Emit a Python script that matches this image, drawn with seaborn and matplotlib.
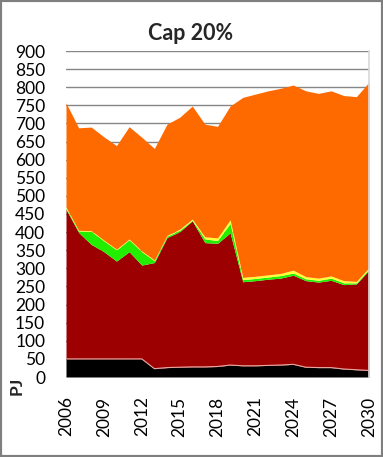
import matplotlib
matplotlib.use("Agg")
import matplotlib.pyplot as plt
import seaborn as sns
import numpy as np
import pandas as pd
from matplotlib.patches import Rectangle

years = list(range(2006, 2031))
black_top = [50, 50, 50, 50, 50, 50, 50, 23, 26, 27, 28, 28, 29, 33, 31, 31, 32, 33, 35, 27, 26, 26, 22, 20, 18]
red_top = [463, 399, 366, 346, 320, 346, 309, 316, 385, 401, 431, 371, 369, 398, 263, 266, 270, 273, 281, 266, 262, 267, 255, 257, 295]
green_top = [466, 403, 402, 376, 351, 379, 346, 321, 389, 405, 433, 381, 377, 424, 269, 272, 276, 280, 287, 271, 267, 273, 260, 260, 298]
yellow_top = [469, 405, 404, 378, 353, 381, 348, 323, 391, 408, 436, 387, 384, 434, 275, 278, 282, 286, 295, 277, 273, 279, 266, 264, 302]
total = [757, 688, 690, 663, 639, 691, 662, 631, 698, 717, 748, 698, 692, 748, 772, 781, 790, 797, 806, 790, 783, 790, 777, 774, 814]

df = pd.DataFrame({
    "year": years,
    "black": black_top,
    "red": np.array(red_top) - np.array(black_top),
    "green": np.array(green_top) - np.array(red_top),
    "yellow": np.array(yellow_top) - np.array(green_top),
    "orange": np.array(total) - np.array(yellow_top),
})

sns.set_theme(style="white")
plt.rcParams["font.family"] = ["Lato", "DejaVu Sans"]

fig = plt.figure(figsize=(3.83, 4.57), dpi=100)
fig.patch.set_facecolor("white")
ax = fig.add_axes([66/383, 1-377/457, (369-66)/383, (377-51)/457])

colors = ["#000000", "#9C0000", "#22EE00", "#FFFF33", "#FF6A00"]
ax.stackplot(df["year"], df["black"], df["red"], df["green"], df["yellow"], df["orange"],
             colors=colors, linewidth=0, zorder=2)
sns.lineplot(x=df["year"], y=df["black"], ax=ax, color="#E8A8A0", linewidth=0.8, zorder=3)

ax.set_xlim(2006, 2030)
ax.set_ylim(0, 900)
ax.set_yticks(np.arange(0, 901, 50))
ax.set_xticks(list(range(2006, 2031, 3)))
ax.set_xticklabels([str(y) for y in range(2006, 2031, 3)], rotation=90)
ax.tick_params(axis="y", labelsize=12.5, pad=15, length=0, colors="black")
ax.tick_params(axis="x", labelsize=12.5, pad=14, length=0, colors="black")
ax.set_axisbelow(True)
ax.yaxis.grid(True, color="#868686", linewidth=1)
ax.xaxis.grid(False)
for s in ["left", "top", "bottom"]:
    ax.spines[s].set_visible(False)
ax.spines["right"].set_color("#D9D9D9")
ax.set_xlabel("")
ax.set_ylabel("")

fig.text(191/383, 1-33/457, "Cap 20%", ha="center", va="center", fontsize=15.5, fontweight="bold")
fig.text(17/383, 1-386/457, "PJ", ha="center", va="center", rotation=90, fontsize=12.5, fontweight="bold")

fig.patches.append(Rectangle((0, 0), 1, 1, transform=fig.transFigure, fill=False,
                             edgecolor="#7F7F7F", linewidth=3))

fig.savefig("out.png", dpi=100)
